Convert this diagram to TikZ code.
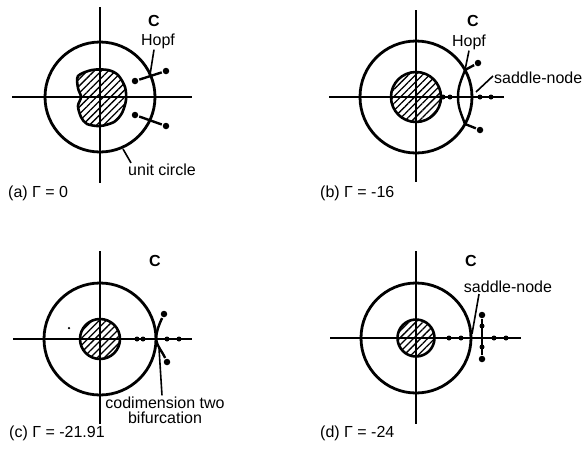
\documentclass[tikz,border=0pt]{standalone}
\usepackage{fontspec}
\setmainfont{Liberation Sans}
\usetikzlibrary{patterns.meta,positioning}

\begin{document}
\begin{tikzpicture}[x=1pt, y=-1pt, line width=2.4pt,
  lbl/.style={font=\fontsize{16}{15}\selectfont, inner sep=0pt},
  dot/.style={circle, fill, inner sep=0pt, minimum size=6.5pt},
  sdot/.style={circle, fill, inner sep=0pt, minimum size=5pt},
  leader/.style={line width=1.6pt},
  unit/.style={line width=2.8pt},
  hatched/.style={draw, line width=2.6pt, pattern={Lines[angle=45,distance=5pt,line width=1.3pt]}}]
  \useasboundingbox (0,0) rectangle (582,448);

  % (a) Gamma = 0
  \begin{scope}[shift={(100,97)}]
    \draw (-88,0) -- (92,0);
    \draw (0,-90) -- (0,86);
    \draw[unit] (0,0) circle[radius=55pt];
    \draw[hatched] plot[smooth cycle] coordinates {(-22,-21) (-8,-27) (8,-27) (18,-22) (25,-10) (26,3) (22,16) (14,25) (0,29) (-13,27) (-19,20) (-22,9) (-19,0) (-22,-9)};
    \node[dot] (a1) at (35,-16) {};
    \node[dot] (a2) at (66,-26) {};
    \node[dot] (a3) at (35,18) {};
    \node[dot] (a4) at (66,29) {};
    \draw (a1) -- (a2);
    \draw (a3) -- (a4);
    \coordinate (aH) at (50,-22);
    \coordinate (aU) at (23,52);
    \node[lbl] (aC) at (54,-76) {\textbf{C}};
    \node[lbl] (aHopf) at (58,-56) {Hopf};
    \node[lbl] (aUnit) at (62,73) {unit circle};
    \draw[leader] ([xshift=-4pt]aHopf.south) -- (aH);
    \draw[leader] (aU) -- ([xshift=4pt]aUnit.north west);
    \node[lbl, anchor=west] (aCap) at (-93,96) {(a) Γ = 0};
  \end{scope}

  % (b) Gamma = -16
  \begin{scope}[shift={(416,97)}]
    \draw (-87,0) -- (88,0);
    \draw (0,-87) -- (0,85);
    \draw[unit] (0,0) circle[radius=56pt];
    \draw[hatched] (0,0) circle[radius=25pt];
    \coordinate (bHu) at (49,-27);
    \coordinate (bHl) at (49,27);
    \coordinate (bS) at (42,0);
    \coordinate (bP) at (60,-5);
    \node[dot] (b1) at (62,-34) {};
    \node[dot] (b2) at (64,33) {};
    \draw (b1) -- (bHu) to[out=250,in=90] (bS) to[out=-90,in=110] (bHl) -- (b2);
    \foreach \x [count=\i] in {27,34,64,75}
      \node[sdot] (bx\i) at (\x,0) {};
    \node[lbl] (bC) at (57,-76) {\textbf{C}};
    \node[lbl] (bHopf) at (53,-55) {Hopf};
    \node[lbl, anchor=west] (bSn) at (77,-19) {saddle-node};
    \draw[leader] (bHopf.south) -- (bHu);
    \draw[leader] ([yshift=2pt]bSn.west) -- (bP);
    \node[lbl, anchor=west] (bCap) at (-97,96) {(b) Γ = -16};
  \end{scope}

  % (c) Gamma = -21.91
  \begin{scope}[shift={(100,339)}]
    \draw (-87,0) -- (92,0);
    \draw (0,-88) -- (0,85);
    \draw[unit] (0,0) circle[radius=56pt];
    \draw[hatched] (0,0) circle[radius=20pt];
    \coordinate (cK) at (56,0);
    \coordinate (cQ) at (59,9);
    \foreach \x [count=\i] in {37,43,67,79}
      \node[sdot] (cx\i) at (\x,0) {};
    \node[dot] (c1) at (64,-25) {};
    \node[dot] (c2) at (67,23) {};
    \draw (c1) to[out=245,in=85] (cK);
    \draw (c2) to[out=115,in=-80] (cK);
    \node[circle, fill, inner sep=0pt, minimum size=2.5pt] (cSpeck) at (-31,-11) {};
    \node[lbl] (cC) at (55,-78) {\textbf{C}};
    \node[lbl, align=center] (cLbl) at (65,71) {codimension two\\bifurcation};
    \draw[leader] ([xshift=-3pt]cLbl.north) -- (cQ);
    \node[lbl, anchor=west] (cCap) at (-92,94) {(c) Γ = -21.91};
  \end{scope}

  % (d) Gamma = -24
  \begin{scope}[shift={(416,338)}]
    \draw (-86,0) -- (105,0);
    \draw (0,-87) -- (0,86);
    \draw[unit] (0,0) circle[radius=55pt];
    \draw[hatched] (0,0) circle[radius=18.5pt];
    \coordinate (dS) at (56,-4);
    \foreach \x [count=\i] in {33,45,78,90}
      \node[sdot] (dx\i) at (\x,0) {};
    \node[dot] (d1) at (66,-23) {};
    \node[sdot] (d2) at (66,-12) {};
    \node[sdot] (d3) at (66,9) {};
    \node[dot] (d4) at (66,21) {};
    \draw (d1) -- (d4);
    \node[lbl] (dC) at (55,-77) {\textbf{C}};
    \node[lbl] (dSn) at (92,-51) {saddle-node};
    \draw[leader] ([xshift=-29pt]dSn.south) to[out=-100,in=80] (dS);
    \node[lbl, anchor=west] (dCap) at (-97,95) {(d) Γ = -24};
  \end{scope}
\end{tikzpicture}
\end{document}
